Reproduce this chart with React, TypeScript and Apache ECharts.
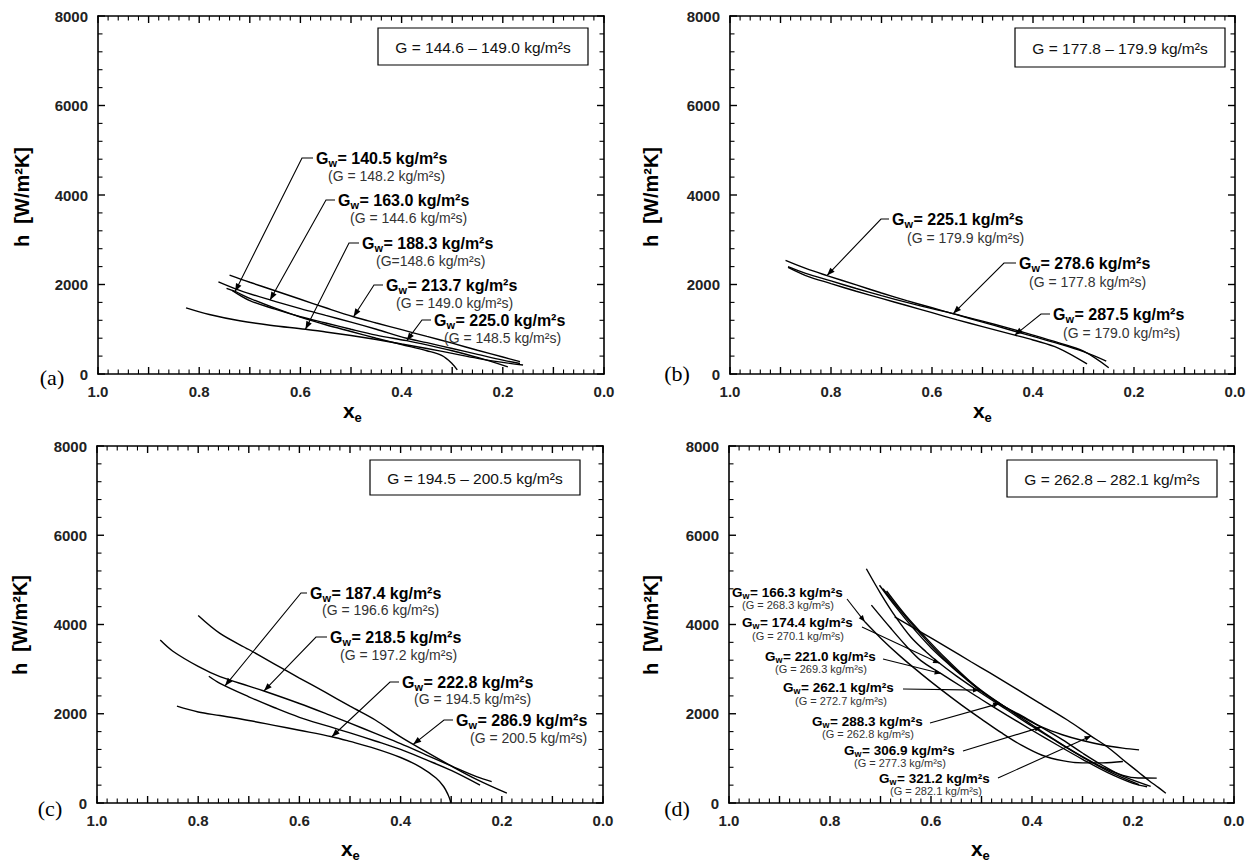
import React, { useEffect, useRef } from "react";
import * as echarts from "echarts";

// ---------------- DATA ----------------
const X_LABELS = ["1.0", "0.8", "0.6", "0.4", "0.2", "0.0"];
const Y_LABELS = ["0", "2000", "4000", "6000", "8000"];

const PANEL_TAGS = ["(a)", "(b)", "(c)", "(d)"];
const PANEL_RANGES = [
  "G = 144.6 – 149.0 kg/m²s",
  "G = 177.8 – 179.9 kg/m²s",
  "G = 194.5 – 200.5 kg/m²s",
  "G = 262.8 – 282.1 kg/m²s",
];

// panel (a)
const a_Gw140_5 = [[0.746,1915],[0.729,1845],[0.70,1690],[0.65,1470],[0.60,1270],[0.55,1100],[0.50,950],[0.45,800],[0.40,660],[0.35,520],[0.32,410],[0.30,230],[0.29,90]];
const a_Gw163_0 = [[0.762,2060],[0.72,1870],[0.66,1655],[0.60,1460],[0.55,1310],[0.50,1160],[0.45,1000],[0.39,800],[0.35,700],[0.30,570],[0.25,440],[0.20,310],[0.166,235]];
const a_Gw188_3 = [[0.826,1478],[0.78,1330],[0.72,1190],[0.66,1090],[0.59,1000],[0.55,940],[0.50,860],[0.45,770],[0.40,670],[0.35,570],[0.30,460],[0.25,350],[0.20,260],[0.16,200]];
const a_Gw213_7 = [[0.74,2210],[0.70,2050],[0.65,1860],[0.60,1670],[0.55,1480],[0.495,1280],[0.45,1140],[0.40,990],[0.35,840],[0.30,690],[0.25,530],[0.20,380],[0.166,275]];
const a_Gw225_0 = [[0.735,1870],[0.70,1640],[0.65,1450],[0.60,1280],[0.55,1140],[0.50,1000],[0.45,870],[0.39,745],[0.35,650],[0.30,520],[0.25,370],[0.19,160]];
const a_Gw = ["140.5", "163.0", "188.3", "213.7", "225.0"];
const a_G = ["(G = 148.2 kg/m²s)", "(G = 144.6 kg/m²s)", "(G=148.6 kg/m²s)", "(G = 149.0 kg/m²s)", "(G = 148.5 kg/m²s)"];
const a_targets = [[0.729,1845],[0.66,1655],[0.59,1000],[0.495,1280],[0.39,745]];

// panel (b)
const b_Gw225_1 = [[0.89,2540],[0.85,2360],[0.808,2200],[0.75,1990],[0.70,1810],[0.65,1640],[0.60,1480],[0.55,1320],[0.50,1160],[0.45,1000],[0.40,840],[0.35,680],[0.30,500],[0.255,290]];
const b_Gw278_6 = [[0.885,2400],[0.85,2250],[0.80,2080],[0.75,1910],[0.70,1750],[0.65,1600],[0.60,1460],[0.558,1350],[0.50,1180],[0.45,1030],[0.40,870],[0.35,700],[0.30,510],[0.25,140]];
const b_Gw287_5 = [[0.885,2380],[0.85,2200],[0.80,2020],[0.75,1850],[0.70,1690],[0.65,1530],[0.60,1370],[0.55,1210],[0.50,1060],[0.436,870],[0.40,760],[0.35,580],[0.293,225]];
const b_Gw = ["225.1", "278.6", "287.5"];
const b_G = ["(G = 179.9 kg/m²s)", "(G = 177.8 kg/m²s)", "(G = 179.0 kg/m²s)"];
const b_targets = [[0.808,2200],[0.558,1350],[0.436,870]];

// panel (c)
const c_Gw187_4 = [[0.779,2840],[0.757,2680],[0.70,2380],[0.65,2140],[0.60,1920],[0.54,1710],[0.50,1570],[0.45,1390],[0.40,1200],[0.35,970],[0.30,730],[0.243,400]];
const c_Gw218_5 = [[0.875,3650],[0.85,3400],[0.80,3060],[0.757,2830],[0.70,2620],[0.67,2510],[0.60,2230],[0.54,1970],[0.50,1790],[0.45,1560],[0.40,1330],[0.35,1080],[0.30,830],[0.25,590],[0.22,480]];
const c_Gw222_8 = [[0.842,2170],[0.80,2040],[0.757,1960],[0.70,1850],[0.65,1740],[0.60,1630],[0.536,1485],[0.50,1380],[0.45,1220],[0.40,1020],[0.36,800],[0.33,560],[0.315,370],[0.306,180],[0.302,60],[0.301,0]];
const c_Gw286_9 = [[0.80,4200],[0.757,3800],[0.70,3440],[0.65,3120],[0.60,2800],[0.55,2490],[0.50,2170],[0.45,1860],[0.40,1480],[0.35,1150],[0.30,830],[0.25,530],[0.19,220]];
const c_Gw = ["187.4", "218.5", "222.8", "286.9"];
const c_G = ["(G = 196.6 kg/m²s)", "(G = 197.2 kg/m²s)", "(G = 194.5 kg/m²s)", "(G = 200.5 kg/m²s)"];
const c_targets = [[0.747,2625],[0.67,2510],[0.536,1485],[0.375,1315]];

// panel (d)
const d_Gw166_3 = [[0.731,4060],[0.70,3700],[0.66,3280],[0.62,2900],[0.58,2540],[0.54,2200],[0.50,1880],[0.46,1570],[0.42,1290],[0.38,1070],[0.34,950],[0.30,900],[0.26,900],[0.22,930]];
const d_Gw174_4 = [[0.728,5250],[0.70,4700],[0.67,4170],[0.64,3720],[0.61,3390],[0.583,3130],[0.55,2850],[0.50,2460],[0.45,2090],[0.40,1720],[0.35,1370],[0.30,1030],[0.25,720],[0.188,410]];
const d_Gw221_0 = [[0.718,4435],[0.68,3920],[0.649,3520],[0.62,3190],[0.58,2900],[0.54,2610],[0.50,2320],[0.45,1970],[0.40,1630],[0.35,1300],[0.30,980],[0.25,680],[0.20,440],[0.172,365]];
const d_Gw262_1 = [[0.702,4880],[0.67,4400],[0.64,3980],[0.60,3480],[0.56,3060],[0.53,2770],[0.504,2530],[0.46,2200],[0.42,1930],[0.38,1700],[0.34,1530],[0.30,1400],[0.26,1300],[0.22,1230],[0.188,1190]];
const d_Gw288_3 = [[0.695,4800],[0.66,4300],[0.62,3780],[0.58,3300],[0.54,2880],[0.50,2520],[0.464,2233],[0.42,1900],[0.38,1600],[0.34,1310],[0.30,1040],[0.26,800],[0.22,620],[0.19,560],[0.153,558]];
const d_Gw306_9 = [[0.688,4750],[0.65,4200],[0.61,3700],[0.57,3230],[0.53,2800],[0.49,2420],[0.45,2130],[0.42,1950],[0.382,1700],[0.34,1420],[0.30,1120],[0.26,840],[0.22,600],[0.165,372]];
const d_Gw321_2 = [[0.672,4170],[0.62,3830],[0.57,3500],[0.52,3160],[0.484,2920],[0.44,2620],[0.385,2240],[0.33,1860],[0.283,1500],[0.25,1250],[0.221,980],[0.19,700],[0.168,500],[0.15,350],[0.135,220]];
const d_Gw = ["166.3", "174.4", "221.0", "262.1", "288.3", "306.9", "321.2"];
const d_G = ["(G = 268.3 kg/m²s)", "(G = 270.1 kg/m²s)", "(G = 269.3 kg/m²s)", "(G = 272.7 kg/m²s)", "(G = 262.8 kg/m²s)", "(G = 277.3 kg/m²s)", "(G = 282.1 kg/m²s)"];
const d_targets = [[0.731,4060],[0.583,3130],[0.58,2900],[0.504,2530],[0.464,2233],[0.382,1700],[0.283,1500]];

const SERIES_BY_PANEL = [
  [a_Gw140_5, a_Gw163_0, a_Gw188_3, a_Gw213_7, a_Gw225_0],
  [b_Gw225_1, b_Gw278_6, b_Gw287_5],
  [c_Gw187_4, c_Gw218_5, c_Gw222_8, c_Gw286_9],
  [d_Gw166_3, d_Gw174_4, d_Gw221_0, d_Gw262_1, d_Gw288_3, d_Gw306_9, d_Gw321_2],
];
const GW_BY_PANEL = [a_Gw, b_Gw, c_Gw, d_Gw];
const G_BY_PANEL = [a_G, b_G, c_G, d_G];
const TARGETS_BY_PANEL = [a_targets, b_targets, c_targets, d_targets];

// ---------------- LAYOUT ----------------
const FONT = '"Liberation Sans", Arial, Helvetica, sans-serif';
const SERIF = '"Liberation Serif", "Times New Roman", serif';

const GRIDS = [
  { left: 98, top: 16, width: 506, height: 358 },
  { left: 730, top: 16, width: 505, height: 358 },
  { left: 97, top: 446, width: 506, height: 357 },
  { left: 729, top: 446, width: 505, height: 357 },
];
const Y_TITLE_POS = [[22, 197], [651, 197], [20, 625], [651, 625]];
const X_TITLE_POS = [[352, 410], [982, 410], [350, 848], [980, 848]];
const TAG_POS = [[52, 377], [677, 373], [50, 808], [677, 808]];
const BOX_POS = [[378, 28, 210, 37], [1015, 28, 210, 39], [370, 460, 210, 35], [1007, 460, 210, 37]];

const LABEL_LAYOUT = [
  [
    { t: [316, 158], s: [328, 176], e: [302, 158] },
    { t: [338, 200], s: [350, 218], e: [326, 200] },
    { t: [362, 243], s: [376, 261], e: [349, 243] },
    { t: [386, 285], s: [396, 303], e: [374, 285] },
    { t: [434, 320], s: [444, 338], e: [422, 320] },
  ],
  [
    { t: [892, 219], s: [907, 238], e: [881, 219] },
    { t: [1019, 263], s: [1029, 282], e: [1004, 263] },
    { t: [1053, 314], s: [1063, 333], e: [1041, 314] },
  ],
  [
    { t: [310, 593], s: [322, 610], e: [301, 593] },
    { t: [330, 637], s: [340, 655], e: [316, 637] },
    { t: [402, 682], s: [414, 699], e: [390, 682] },
    { t: [456, 720], s: [470, 738], e: [444, 720] },
  ],
  [
    { t: [732, 592], s: [742, 605], e: [847, 599] },
    { t: [742, 622], s: [752, 636], e: [862, 627] },
    { t: [765, 656], s: [775, 669], e: [883, 659] },
    { t: [783, 687], s: [795, 701], e: [903, 689] },
    { t: [812, 721], s: [822, 734], e: [930, 723] },
    { t: [844, 750], s: [854, 763], e: [963, 751] },
    { t: [879, 778], s: [890, 791], e: [998, 778] },
  ],
];

function textEl(x: number, y: number, text: string, font: string, fill = "#000", align = "left", extra: any = {}) {
  return {
    type: "text",
    x,
    y,
    z: 100,
    silent: true,
    ...extra,
    style: {
      text,
      font,
      fill,
      textAlign: align,
      align,
      textVerticalAlign: "middle",
      verticalAlign: "middle",
    },
  };
}

function gwLabel(x: number, y: number, gw: string, size: number, subSize: number) {
  const gW = 0.778 * size;
  const wW = 0.778 * subSize;
  return [
    textEl(x, y, "G", `bold ${size}px ${FONT}`),
    textEl(x + gW, y + size * 0.3, "w", `bold ${subSize}px ${FONT}`),
    textEl(x + gW + wW + 0.5, y, `= ${gw} kg/m²s`, `bold ${size}px ${FONT}`),
  ];
}

function arrowHead(from: number[], tip: number[], len: number, half: number) {
  const dx = tip[0] - from[0];
  const dy = tip[1] - from[1];
  const d = Math.hypot(dx, dy) || 1;
  const ux = dx / d, uy = dy / d;
  const bx = tip[0] - ux * len, by = tip[1] - uy * len;
  return {
    type: "polygon",
    z: 101,
    silent: true,
    shape: { points: [tip, [bx - uy * half, by + ux * half], [bx + uy * half, by - ux * half]] },
    style: { fill: "#000" },
  };
}

function buildAxes() {
  const xAxis: any[] = [];
  const yAxis: any[] = [];
  const line = () => ({ show: true, onZero: false, lineStyle: { color: "#000", width: 1.6 } });
  for (let i = 0; i < 4; i++) {
    ["bottom", "top"].forEach((pos, k) => {
      xAxis.push({
        gridIndex: i,
        type: "value",
        position: pos,
        min: 0,
        max: 1,
        interval: 0.1,
        inverse: true,
        axisLine: line(),
        axisTick: { show: false },
        splitLine: { show: false },
        axisLabel: {
          show: k === 0,
          margin: 10,
          color: "#222",
          fontSize: 15,
          fontWeight: "bold",
          fontFamily: FONT,
          formatter: (v: number) => {
            const idx = Math.round((1 - v) * 5 * 1000) / 1000;
            return Number.isInteger(idx) ? X_LABELS[idx] : "";
          },
        },
      });
    });
    ["left", "right"].forEach((pos, k) => {
      yAxis.push({
        gridIndex: i,
        type: "value",
        position: pos,
        min: 0,
        max: 8000,
        interval: 2000,
        axisLine: line(),
        axisTick: { show: false },
        splitLine: { show: false },
        axisLabel: {
          show: k === 0,
          margin: 10,
          color: "#222",
          fontSize: 15,
          fontWeight: "bold",
          fontFamily: FONT,
          formatter: (v: number) => Y_LABELS[Math.round(v / 2000)] ?? "",
        },
      });
    });
  }
  return { xAxis, yAxis };
}

export default function App() {
  const ref = useRef<HTMLDivElement>(null);
  useEffect(() => {
    if (!ref.current) return;
    const chart = echarts.init(ref.current, undefined, { renderer: "svg" });
    const { xAxis, yAxis } = buildAxes();
    const series: any[] = [];
    SERIES_BY_PANEL.forEach((list, i) => {
      list.forEach((data) => {
        series.push({
          type: "line",
          xAxisIndex: i * 2,
          yAxisIndex: i * 2,
          data,
          symbol: "none",
          showSymbol: false,
          smooth: 0.35,
          silent: true,
          lineStyle: { color: "#000", width: 1.4 },
        });
      });
    });
    chart.setOption({
      animation: false,
      backgroundColor: "#fff",
      grid: GRIDS.map((g) => ({ ...g, containLabel: false })),
      xAxis,
      yAxis,
      series,
    });

    const graphic: any[] = [];
    for (let i = 0; i < 4; i++) {
      const px = (x: number, y: number) => chart.convertToPixel({ gridIndex: i } as any, [x, y]) as number[];
      const top = px(0, 8000)[1];
      const bottom = px(0, 0)[1];
      const left = px(1, 0)[0];
      const right = px(0, 0)[0];
      for (let k = 0; k <= 50; k++) {
        const v = k / 50;
        const major = k % 5 === 0;
        const len = major ? 7 : 4.5;
        const x = px(v, 0)[0];
        graphic.push({
          type: "rect", z: 98, silent: true,
          shape: { x: x - (major ? 0.7 : 0.55), y: bottom - len, width: major ? 1.4 : 1.1, height: len },
          style: { fill: "#000" },
        });
        graphic.push({
          type: "rect", z: 98, silent: true,
          shape: { x: x - (major ? 0.7 : 0.55), y: top, width: major ? 1.4 : 1.1, height: len },
          style: { fill: "#000" },
        });
      }
      for (let k = 0; k <= 20; k++) {
        const v = k * 400;
        const major = k % 5 === 0;
        const len = major ? 7 : 4.5;
        const y = px(0, v)[1];
        graphic.push({
          type: "rect", z: 98, silent: true,
          shape: { x: left, y: y - (major ? 0.7 : 0.55), width: len, height: major ? 1.4 : 1.1 },
          style: { fill: "#000" },
        });
        graphic.push({
          type: "rect", z: 98, silent: true,
          shape: { x: right - len, y: y - (major ? 0.7 : 0.55), width: len, height: major ? 1.4 : 1.1 },
          style: { fill: "#000" },
        });
      }

      const [bx, by, bw, bh] = BOX_POS[i];
      graphic.push({
        type: "rect",
        z: 99,
        silent: true,
        shape: { x: bx, y: by, width: bw, height: bh },
        style: { fill: "#fff", stroke: "#000", lineWidth: 1.2 },
      });
      graphic.push(textEl(bx + bw / 2, by + bh / 2 + 1, PANEL_RANGES[i], `15.5px ${FONT}`, "#111", "center"));
      graphic.push(textEl(TAG_POS[i][0], TAG_POS[i][1], PANEL_TAGS[i], `22px ${SERIF}`, "#000", "center"));
      graphic.push(
        textEl(Y_TITLE_POS[i][0], Y_TITLE_POS[i][1], "h  [W/m²K]", `bold 20px ${FONT}`, "#000", "center", {
          rotation: Math.PI / 2,
        })
      );
      const [xtx, xty] = X_TITLE_POS[i];
      graphic.push(textEl(xtx - 9, xty, "x", `bold 21px ${FONT}`, "#000", "left"));
      graphic.push(textEl(xtx + 2.5, xty + 7, "e", `bold 13px ${FONT}`, "#000", "left"));

      const big = i < 3;
      const size = big ? 16 : 13.5;
      const subSize = big ? 11 : 9;
      const subFont = big ? `14px ${FONT}` : `11px ${FONT}`;
      GW_BY_PANEL[i].forEach((gw, j) => {
        const lay = LABEL_LAYOUT[i][j];
        graphic.push(...gwLabel(lay.t[0], lay.t[1], gw, size, subSize));
        graphic.push(textEl(lay.s[0], lay.s[1], G_BY_PANEL[i][j], subFont, "#333", "left"));
        const tip = chart.convertToPixel({ gridIndex: i } as any, TARGETS_BY_PANEL[i][j]) as number[];
        const pts = big ? [[lay.t[0] - 3, lay.t[1]], lay.e, tip] : [lay.e, tip];
        graphic.push({
          type: "polyline",
          z: 100,
          silent: true,
          shape: { points: pts },
          style: { stroke: "#000", lineWidth: 1.1, fill: null },
        });
        graphic.push(arrowHead(pts[pts.length - 2], tip, big ? 8 : 6.5, big ? 3 : 2.6));
      });
    }
    chart.setOption({ graphic });
    return () => chart.dispose();
  }, []);
  return (
    <div
      ref={ref}
      style={{ position: "fixed", left: 0, top: 0, width: 1251, height: 863, background: "#fff" }}
    />
  );
}
